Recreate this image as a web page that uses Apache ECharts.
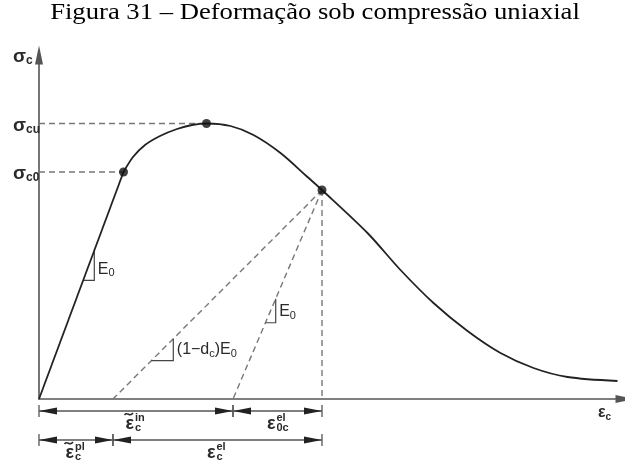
<!DOCTYPE html>
<html>
<head>
<meta charset="utf-8">
<script src="https://cdn.jsdelivr.net/npm/echarts@6/dist/echarts.min.js"></script>
<style>
  html, body { margin: 0; padding: 0; background: #fff; }
  #c { width: 625px; height: 462px; }
</style>
</head>
<body>
<div id="c"></div>
<script>
// Uniaxial compression: stress–strain response (schematic units)
const riseStrain = [0, 84.5];
const riseStress = [0, 227];
const curveStrain = [84.5, 94, 106, 121, 138, 153, 167.5, 191.5, 214.5, 241.5, 268.5, 283, 328.5, 361.5, 394.5, 428.5, 461.5, 494.5, 528.5, 578.5];
const curveStress = [227, 242, 254, 263, 270, 274, 275.5, 273, 264, 246, 222, 209, 166, 129, 96, 68, 46, 31, 22, 18];
// Marked states: onset of nonlinearity (σc0), peak (σcu), unloading state
const keyStrain = [84.5, 167.5, 283];
const keyStress = [227, 275.5, 209];
// Strain split at the unloading state
const plasticStrain = 74;
const inelasticStrain = 194;
const totalStrain = keyStrain[2];

const FAMILY = 'Liberation Sans';
const INK = '#2a2a2a';
const measureCtx = document.createElement('canvas').getContext('2d');
function textW(t, size, weight) {
  measureCtx.font = weight + ' ' + size + 'px "' + FAMILY + '"';
  return measureCtx.measureText(t).width;
}
function txt(t, x, y, size, weight, align) {
  return { type: 'text', style: { text: t, x: x, y: y, fontFamily: FAMILY, fontSize: size, fontWeight: weight,
    fill: INK, align: align || 'left', verticalAlign: 'middle' } };
}
// lay out pieces left to right: [text, size, weight, dy]
function inline(x, y, pieces) {
  const out = [];
  pieces.forEach(function (p) {
    out.push(txt(p[0], x, y + (p[3] || 0), p[1], p[2]));
    x += textW(p[0], p[1], p[2]);
  });
  return out;
}

// straight lines used by the slope markers
const loadSlope = riseStress[1] / riseStrain[1];
const slopeLines = [
  { x0: 0, y0: 0, k: loadSlope },
  { x0: inelasticStrain, y0: 0, k: keyStress[2] / (totalStrain - inelasticStrain) },
  { x0: plasticStrain, y0: 0, k: keyStress[2] / (totalStrain - plasticStrain) }
];
const slopeNames = [
  [['E', 16, 'normal'], ['0', 11, 'normal', 4]],
  [['E', 16, 'normal'], ['0', 11, 'normal', 4]],
  [['(1−d', 16, 'normal'], ['c', 11, 'normal', 4], [')E', 16, 'normal'], ['0', 11, 'normal', 4]]
];
const slopeMarkAt = [[55.3, 30], [236.7, 24], [134.3, 22]];

const dimSegments = [
  [0, inelasticStrain, 0], [inelasticStrain, totalStrain, 0],
  [0, plasticStrain, 1], [plasticStrain, totalStrain, 1]
];
const dimLabels = [
  { tilde: true, sup: 'in', sub: 'c' },
  { tilde: false, sup: 'el', sub: '0c' },
  { tilde: true, sup: 'pl', sub: 'c' },
  { tilde: false, sup: 'el', sub: 'c' }
];

const dashed = { color: '#777', width: 1.4, type: [6, 4] };
function guide(data) {
  return { type: 'line', data: data, symbol: 'none', silent: true, z: 1,
    lineStyle: dashed, animation: false };
}

const chart = echarts.init(document.getElementById('c'));
chart.setOption({
  animation: false,
  graphic: [{
    type: 'text', x: 315, y: 13, scaleX: 1.11, originX: 0, originY: 0,
    style: {
      text: 'Figura 31 – Deformação sob compressão uniaxial',
      fontFamily: 'Liberation Serif', fontSize: 24, fontWeight: 'normal',
      fill: '#000', align: 'center', verticalAlign: 'middle'
    }
  }],
  grid: { left: 39, top: 55, width: 586, height: 344 },
  xAxis: {
    type: 'value', min: 0, max: 586,
    axisLine: { onZero: false, symbol: ['none', 'triangle'], symbolSize: [8, 19], lineStyle: { color: '#555', width: 1.6 } },
    axisTick: { show: false }, axisLabel: { show: false }, splitLine: { show: false }
  },
  yAxis: {
    type: 'value', min: 0, max: 344,
    axisLine: { onZero: false, symbol: ['none', 'triangle'], symbolSize: [8, 19], lineStyle: { color: '#555', width: 1.6 } },
    axisTick: { show: false }, axisLabel: { show: false }, splitLine: { show: false }
  },
  series: [
    guide([[0, keyStress[0]], [keyStrain[0], keyStress[0]]]),
    guide([[0, keyStress[1]], [keyStrain[1], keyStress[1]]]),
    guide([[totalStrain, keyStress[2]], [totalStrain, 0]]),
    guide([[totalStrain, keyStress[2]], [inelasticStrain, 0]]),
    guide([[totalStrain, keyStress[2]], [plasticStrain, 0]]),
    {
      type: 'line', symbol: 'none', silent: true, z: 3,
      data: riseStrain.map(function (x, i) { return [x, riseStress[i]]; }),
      lineStyle: { color: '#222', width: 1.8 }
    },
    {
      type: 'line', symbol: 'none', silent: true, z: 3, smooth: 0.3,
      data: curveStrain.map(function (x, i) { return [x, curveStress[i]]; }),
      lineStyle: { color: '#222', width: 1.8 }
    },
    {
      type: 'scatter', symbolSize: 9, z: 4, silent: true,
      itemStyle: { color: '#111' },
      data: keyStrain.map(function (x, i) { return [x, keyStress[i]]; })
    },
    {
      // slope triangles with their moduli
      type: 'custom', silent: true, z: 2,
      data: slopeMarkAt.map(function (d, i) { return [i]; }),
      renderItem: function (params, api) {
        const i = params.dataIndex, ln = slopeLines[i];
        const xt = slopeMarkAt[i][0], h = slopeMarkAt[i][1];
        const yt = ln.y0 + ln.k * (xt - ln.x0);
        const xl = ln.x0 + (yt - h - ln.y0) / ln.k;
        const T = api.coord([xt, yt]), C = api.coord([xt, yt - h]), Lp = api.coord([xl, yt - h]);
        const kids = [{ type: 'polyline', shape: { points: [T, C, Lp] },
          style: { stroke: '#444', lineWidth: 1.2, fill: null } }];
        return { type: 'group', children: kids.concat(inline(C[0] + 3.5, C[1] - 11, slopeNames[i])) };
      }
    },
    {
      // dimension lines of the strain split
      type: 'custom', silent: true, z: 2,
      data: dimSegments,
      renderItem: function (params, api) {
        const a = api.coord([api.value(0), 0]), b = api.coord([api.value(1), 0]);
        const y = a[1] + (api.value(2) ? 41 : 12);
        const L = 18, H = 3.5;
        const lab = dimLabels[params.dataIndex];
        const kids = [
          { type: 'line', shape: { x1: a[0], y1: y, x2: b[0], y2: y }, style: { stroke: '#555', lineWidth: 1.3 } },
          { type: 'polygon', shape: { points: [[a[0], y], [a[0] + L, y - H], [a[0] + L, y + H]] }, style: { fill: '#222' } },
          { type: 'polygon', shape: { points: [[b[0], y], [b[0] - L, y - H], [b[0] - L, y + H]] }, style: { fill: '#222' } },
          { type: 'line', shape: { x1: a[0], y1: y - 6, x2: a[0], y2: y + 6 }, style: { stroke: '#555', lineWidth: 1.3 } },
          { type: 'line', shape: { x1: b[0], y1: y - 6, x2: b[0], y2: y + 6 }, style: { stroke: '#555', lineWidth: 1.3 } }
        ];
        const cx = (a[0] + b[0]) / 2 - 2, ly = y + 13;
        kids.push(txt('ε', cx, ly, 18, 'bold', 'right'));
        if (lab.tilde) {
          const tx = cx - 9.5, ty = ly - 10;
          kids.push({ type: 'bezierCurve',
            shape: { x1: tx, y1: ty + 1, cpx1: tx + 3, cpy1: ty - 3, cpx2: tx + 5, cpy2: ty + 4, x2: tx + 8.5, y2: ty - 1 },
            style: { stroke: INK, lineWidth: 1.5, fill: null } });
        }
        kids.push(txt(lab.sup, cx + 1, ly - 6, 11, 'bold'));
        kids.push(txt(lab.sub, cx + 1, ly + 4, 11, 'bold'));
        return { type: 'group', children: kids };
      }
    },
    {
      // axis symbols
      type: 'custom', silent: true, z: 5,
      data: [[0]],
      renderItem: function (params, api) {
        const top = api.coord([0, 344]);
        const cu = api.coord([0, keyStress[1]]);
        const c0 = api.coord([0, keyStress[0]]);
        const xe = api.coord([586, 0]);
        let kids = [];
        kids = kids.concat(inline(top[0] - 26, top[1] + 2, [['σ', 19, 'bold'], ['c', 12, 'bold', 4]]));
        kids = kids.concat(inline(cu[0] - 26, cu[1] + 2, [['σ', 19, 'bold'], ['cu', 12, 'bold', 4]]));
        kids = kids.concat(inline(c0[0] - 26, c0[1] + 2, [['σ', 19, 'bold'], ['c0', 12, 'bold', 4]]));
        kids = kids.concat(inline(xe[0] - 27, xe[1] + 14, [['ε', 16, 'bold'], ['c', 10, 'bold', 4]]));
        return { type: 'group', children: kids };
      }
    }
  ]
});
</script>
</body>
</html>
